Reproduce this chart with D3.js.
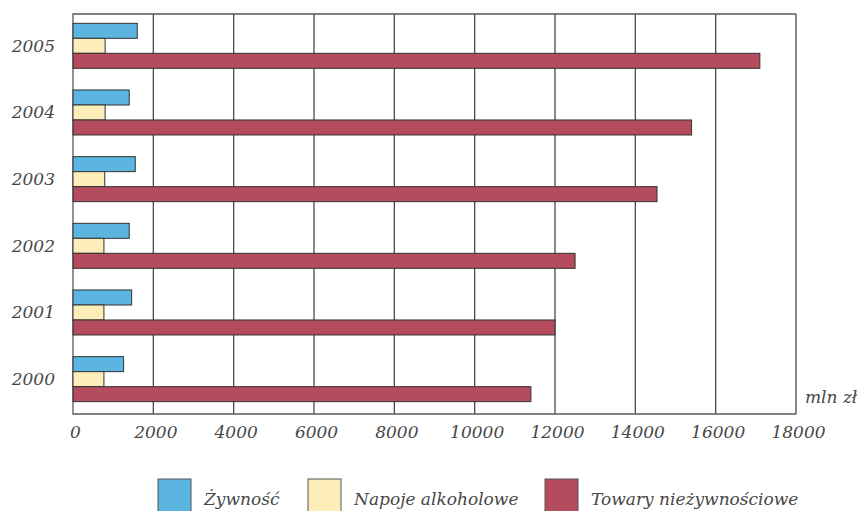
<!DOCTYPE html>
<html>
<head>
<meta charset="utf-8">
<script src="https://cdn.jsdelivr.net/npm/d3@7"></script>
<style>
  html, body { margin: 0; padding: 0; background: #fff; }
  svg { display: block; }
  text { font-family: "DejaVu Serif", serif; font-style: italic; fill: #474747; }
</style>
</head>
<body>
<svg id="chart" width="862" height="511"></svg>
<script>
// Sprzedaż detaliczna według grup towarów (mln zł)
const years = ["2005", "2004", "2003", "2002", "2001", "2000"];
const seriesNames = ["Żywność", "Napoje alkoholowe", "Towary nieżywnościowe"];
const food    = [1600, 1400, 1550, 1400, 1460, 1260];
const alcohol = [800, 800, 790, 770, 770, 770];
const nonFood = [17100, 15400, 14540, 12500, 12000, 11400];
const xTicks  = [0, 2000, 4000, 6000, 8000, 10000, 12000, 14000, 16000, 18000];
const colors  = ["#5cb4e0", "#fcedb9", "#b44c5e"];
const unitLabel = "mln zł";

const seriesValues = [food, alcohol, nonFood];

const svg = d3.select("#chart");
const plotLeft = 73, plotRight = 796, plotTop = 14, plotBottom = 414;
const fontSize = 17;

const x = d3.scaleLinear().domain([0, 18000]).range([plotLeft, plotRight]);
const y = d3.scaleBand().domain(years).range([plotTop, plotBottom])
  .paddingInner(0.325).paddingOuter(0.1625).align(0.43);
const ySub = d3.scaleBand().domain(d3.range(seriesNames.length))
  .range([0, y.bandwidth()]);

// vertical grid lines
svg.append("g").selectAll("line")
  .data(xTicks.slice(1))
  .join("line")
  .attr("x1", d => x(d)).attr("x2", d => x(d))
  .attr("y1", plotTop).attr("y2", plotBottom)
  .attr("stroke", "#4a4a4a").attr("stroke-width", 1.3);

// frame: top, left and bottom edges
svg.append("path")
  .attr("d", `M${x(18000)},${plotTop}H${plotLeft}V${plotBottom}H${x(18000)}`)
  .attr("fill", "none").attr("stroke", "#5a5a5a").attr("stroke-width", 1.3);

// bars
const groups = svg.append("g").selectAll("g")
  .data(years)
  .join("g")
  .attr("transform", d => `translate(0,${y(d)})`);

groups.selectAll("rect")
  .data((yr, i) => seriesValues.map((vals, s) => ({ s, v: vals[i] })))
  .join("rect")
  .attr("x", x(0))
  .attr("y", d => ySub(d.s))
  .attr("width", d => x(d.v) - x(0))
  .attr("height", ySub.bandwidth())
  .attr("fill", d => colors[d.s])
  .attr("stroke", "#333")
  .attr("stroke-width", 1);

// year labels
svg.append("g").selectAll("text")
  .data(years)
  .join("text")
  .attr("x", 55)
  .attr("y", d => y(d) + y.bandwidth() / 2)
  .attr("dy", "0.35em")
  .attr("text-anchor", "end")
  .attr("font-size", fontSize)
  .text(d => d);

// x axis labels
const xAxis = d3.axisBottom(x).tickValues(xTicks).tickSize(0).tickPadding(0)
  .tickFormat(d3.format("d"));
const gx = svg.append("g")
  .attr("transform", `translate(2,${plotBottom})`)
  .call(xAxis);
gx.select(".domain").remove();
gx.selectAll("text")
  .attr("y", 24)
  .attr("dy", 0)
  .attr("font-size", fontSize)
  .attr("font-family", "DejaVu Serif, serif")
  .attr("font-style", "italic")
  .attr("fill", "#474747");

// unit label
svg.append("text")
  .attr("x", 805).attr("y", 403)
  .attr("font-size", fontSize)
  .text(unitLabel);

// legend
const legendX = [158, 308, 545];
const legend = svg.append("g").selectAll("g")
  .data(seriesNames)
  .join("g")
  .attr("transform", (d, i) => `translate(${legendX[i]},479)`);
legend.append("rect")
  .attr("width", 33).attr("height", 40)
  .attr("fill", (d, i) => colors[i])
  .attr("stroke", "#555").attr("stroke-width", 1);
legend.append("text")
  .attr("x", 46).attr("y", 26)
  .attr("font-size", fontSize)
  .text(d => d);
</script>
</body>
</html>
